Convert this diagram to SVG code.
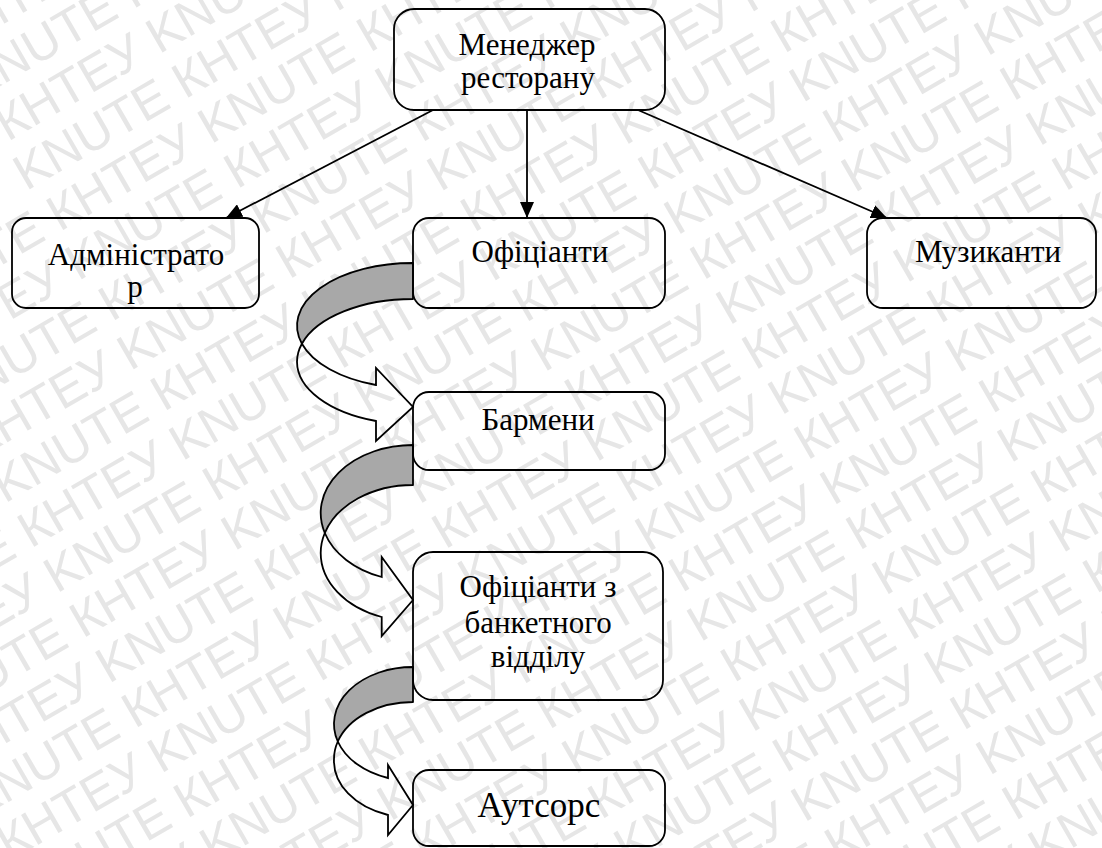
<svg xmlns="http://www.w3.org/2000/svg" xmlns:xlink="http://www.w3.org/1999/xlink" width="1102" height="848" viewBox="0 0 1102 848">
<style>
.wm{font-family:"Liberation Sans",Arial,sans-serif;font-size:50px;fill:#e6e6e6}
.box{fill:none;stroke:#000;stroke-width:1.8}
.t{font-family:"Liberation Serif","Times New Roman",serif;font-size:31px;text-anchor:middle;fill:#000}
.ln{stroke:#000;stroke-width:1.8;fill:none}
.back{fill:#a8a8a8;stroke:#000;stroke-width:1.8;stroke-linejoin:round}
.front{fill:none;stroke:#000;stroke-width:1.8;stroke-linejoin:miter}
</style>
<defs>
<marker id="ah" viewBox="0 0 16 14" refX="16" refY="7" markerWidth="16" markerHeight="14" markerUnits="userSpaceOnUse" orient="auto">
<path d="M0,0 L16,7 L0,14 Z" fill="#000"/>
</marker>
<text id="wa" class="wm" x="-320">KNUTE КНТЕУ KNUTE КНТЕУ KNUTE КНТЕУ KNUTE КНТЕУ KNUTE КНТЕУ KNUTE КНТЕУ</text>
<text id="wb" class="wm" x="-320">КНТЕУ KNUTE КНТЕУ KNUTE КНТЕУ KNUTE КНТЕУ KNUTE КНТЕУ KNUTE КНТЕУ KNUTE</text>
</defs>
<rect width="1102" height="848" fill="#fff"/>
<g id="watermark" transform="rotate(-30 551 424)">
<use xlink:href="#wa" y="-300"/><use xlink:href="#wb" y="-248"/>
<use xlink:href="#wa" y="-196"/><use xlink:href="#wb" y="-144"/>
<use xlink:href="#wa" y="-92"/><use xlink:href="#wb" y="-40"/>
<use xlink:href="#wa" y="12"/><use xlink:href="#wb" y="64"/>
<use xlink:href="#wa" y="116"/><use xlink:href="#wb" y="168"/>
<use xlink:href="#wa" y="220"/><use xlink:href="#wb" y="272"/>
<use xlink:href="#wa" y="324"/><use xlink:href="#wb" y="376"/>
<use xlink:href="#wa" y="428"/><use xlink:href="#wb" y="480"/>
<use xlink:href="#wa" y="532"/><use xlink:href="#wb" y="584"/>
<use xlink:href="#wa" y="636"/><use xlink:href="#wb" y="688"/>
<use xlink:href="#wa" y="740"/><use xlink:href="#wb" y="792"/>
<use xlink:href="#wa" y="844"/><use xlink:href="#wb" y="896"/>
<use xlink:href="#wa" y="948"/><use xlink:href="#wb" y="1000"/>
<use xlink:href="#wa" y="1052"/><use xlink:href="#wb" y="1104"/>
<use xlink:href="#wa" y="1156"/><use xlink:href="#wb" y="1208"/>
</g>
<g id="connectors">
<line class="ln" x1="433" y1="110" x2="226" y2="218" marker-end="url(#ah)"/>
<line class="ln" x1="527" y1="110" x2="527" y2="218" marker-end="url(#ah)"/>
<line class="ln" x1="638" y1="110" x2="887" y2="218" marker-end="url(#ah)"/>
<g id="curved1">
<path class="back" d="M413,263 A116,62.7 0 0 0 301.9,343.7 A116,62.7 0 0 1 413,299 Z"/>
<path class="front" d="M301.9,343.7 A116,62.7 0 0 0 376,385 L376,368 L413,407 L376,441 L376,421 A116,62.7 0 0 1 297,361.7 A116,62.7 0 0 1 301.9,343.7 Z"/>
</g>
<g id="curved2">
<path class="back" d="M413,445 A92.3,68 0 0 0 324.8,533 A92.3,68 0 0 1 413,485 Z"/>
<path class="front" d="M324.8,533 A92.3,68 0 0 0 381.7,577 L381.7,557 L413,600 L381.7,636 L381.7,617 A92.3,68 0 0 1 320.7,553 A92.3,68 0 0 1 324.8,533 Z"/>
</g>
<g id="curved3">
<path class="back" d="M413,667 A79,57 0 0 0 337.8,741.5 A79,57 0 0 1 413,702 Z"/>
<path class="front" d="M337.8,741.5 A79,57 0 0 0 388,778 L388,765 L413,805 L388,835 L388,815 A79,57 0 0 1 334,759 A79,57 0 0 1 337.8,741.5 Z"/>
</g>
</g>
<g id="manager">
<rect class="box" x="394" y="9" width="271" height="101" rx="20"/>
<text class="t" x="527" y="55">Менеджер</text>
<text class="t" x="528" y="88">ресторану</text>
</g>
<g id="administrator">
<rect class="box" x="12" y="218" width="247" height="90" rx="14"/>
<text class="t" x="136" y="265">Адміністрато</text>
<text class="t" x="135" y="297">р</text>
</g>
<g id="waiters">
<rect class="box" x="413" y="218" width="252" height="90" rx="16"/>
<text class="t" x="540" y="262">Офіціанти</text>
</g>
<g id="musicians">
<rect class="box" x="867" y="218" width="229" height="90" rx="16"/>
<text class="t" x="988" y="262">Музиканти</text>
</g>
<g id="barmen">
<rect class="box" x="413" y="392" width="252" height="78" rx="16"/>
<text class="t" x="538" y="430">Бармени</text>
</g>
<g id="banquet">
<rect class="box" x="413" y="552" width="250" height="148" rx="20"/>
<text class="t" x="538" y="597">Офіціанти з</text>
<text class="t" x="538" y="633">банкетного</text>
<text class="t" x="538" y="667">відділу</text>
</g>
<g id="outsource">
<rect class="box" x="413" y="770" width="252" height="76" rx="16"/>
<text class="t" x="539" y="817" style="font-size:35px">Аутсорс</text>
</g>
</svg>
